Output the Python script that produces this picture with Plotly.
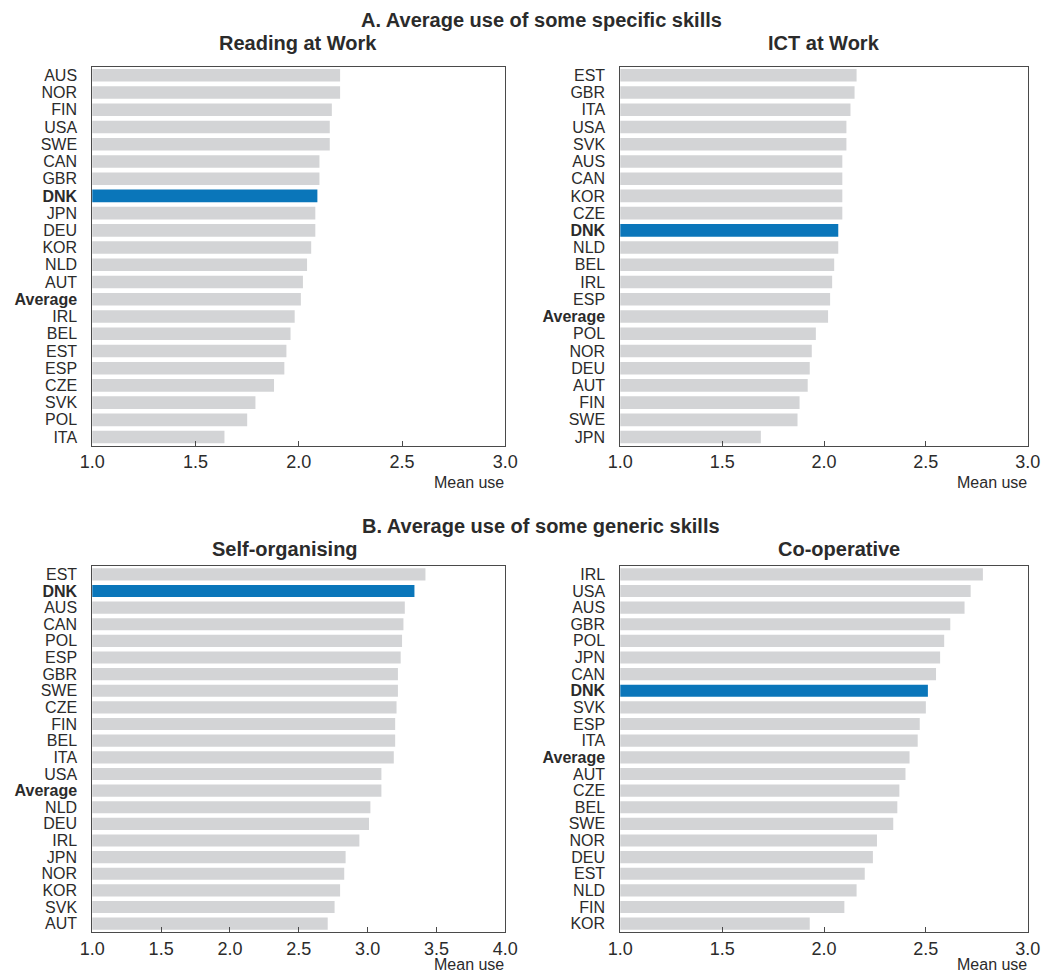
import plotly.graph_objects as go

# ---- data -------------------------------------------------------------
reading_countries = ["AUS", "NOR", "FIN", "USA", "SWE", "CAN", "GBR", "DNK", "JPN", "DEU", "KOR",
                     "NLD", "AUT", "Average", "IRL", "BEL", "EST", "ESP", "CZE", "SVK", "POL", "ITA"]
reading_values = [2.20, 2.20, 2.16, 2.15, 2.15, 2.10, 2.10, 2.09, 2.08, 2.08, 2.06,
                  2.04, 2.02, 2.01, 1.98, 1.96, 1.94, 1.93, 1.88, 1.79, 1.75, 1.64]

ict_countries = ["EST", "GBR", "ITA", "USA", "SVK", "AUS", "CAN", "KOR", "CZE", "DNK", "NLD",
                 "BEL", "IRL", "ESP", "Average", "POL", "NOR", "DEU", "AUT", "FIN", "SWE", "JPN"]
ict_values = [2.16, 2.15, 2.13, 2.11, 2.11, 2.09, 2.09, 2.09, 2.09, 2.07, 2.07,
              2.05, 2.04, 2.03, 2.02, 1.96, 1.94, 1.93, 1.92, 1.88, 1.87, 1.69]

selforg_countries = ["EST", "DNK", "AUS", "CAN", "POL", "ESP", "GBR", "SWE", "CZE", "FIN", "BEL",
                     "ITA", "USA", "Average", "NLD", "DEU", "IRL", "JPN", "NOR", "KOR", "SVK", "AUT"]
selforg_values = [3.42, 3.34, 3.27, 3.26, 3.25, 3.24, 3.22, 3.22, 3.21, 3.20, 3.20,
                  3.19, 3.10, 3.10, 3.02, 3.01, 2.94, 2.84, 2.83, 2.80, 2.76, 2.71]

coop_countries = ["IRL", "USA", "AUS", "GBR", "POL", "JPN", "CAN", "DNK", "SVK", "ESP", "ITA",
                  "Average", "AUT", "CZE", "BEL", "SWE", "NOR", "DEU", "EST", "NLD", "FIN", "KOR"]
coop_values = [2.78, 2.72, 2.69, 2.62, 2.59, 2.57, 2.55, 2.51, 2.50, 2.47, 2.46,
               2.42, 2.40, 2.37, 2.36, 2.34, 2.26, 2.24, 2.20, 2.16, 2.10, 1.93]

panel_titles = ["Reading at Work", "ICT at Work", "Self-organising", "Co-operative"]
section_titles = ["A. Average use of some specific skills", "B. Average use of some generic skills"]
x_ticks_3 = [1.0, 1.5, 2.0, 2.5, 3.0]
x_ticks_4 = [1.0, 1.5, 2.0, 2.5, 3.0, 3.5, 4.0]
x_title = "Mean use"
highlight = "DNK"

# ---- styling ----------------------------------------------------------
W, H = 1050, 975
FONT = "Liberation Sans, Arial, Helvetica, sans-serif"
TEXT = "#2b2b2b"
FRAME = "#4a4a4a"
GREY = "#d3d4d6"
BLUE = "#0a76ba"


def px_x(p):
    return p / W


def px_y(p):
    return 1 - p / H


# pixel boxes of the four plotting areas: (left, right, top, bottom)
boxes = [
    (92.3, 505.3, 66.7, 445.7),
    (620.3, 1027.7, 66.7, 445.7),
    (92.3, 505.3, 566.0, 932.0),
    (620.3, 1027.7, 566.0, 932.0),
]
panels = [
    (reading_countries, reading_values, x_ticks_3),
    (ict_countries, ict_values, x_ticks_3),
    (selforg_countries, selforg_values, x_ticks_4),
    (coop_countries, coop_values, x_ticks_3),
]


def label(c):
    if c in (highlight, "Average"):
        return "<b>" + c + "</b>"
    return c


fig = go.Figure()
layout = {}
for i, ((cats, vals, xt), (l, r, t, b)) in enumerate(zip(panels, boxes), start=1):
    sx = "" if i == 1 else str(i)
    colors = [BLUE if c == highlight else GREY for c in cats]
    fig.add_trace(go.Bar(
        x=vals, y=cats, orientation="h",
        marker=dict(color=colors, line=dict(width=0)),
        width=0.73, xaxis="x" + sx, yaxis="y" + sx,
        showlegend=False, hoverinfo="x+y",
    ))
    layout["xaxis" + sx] = dict(
        domain=[px_x(l), px_x(r)], anchor="y" + sx, automargin=False,
        range=[xt[0], xt[-1]], tickvals=xt, ticktext=["%.1f" % v for v in xt],
        ticks="inside", ticklen=5, tickcolor=FRAME, tickwidth=1,
        showline=True, linecolor=FRAME, linewidth=1, mirror=True,
        showgrid=False, zeroline=False, fixedrange=True,
        tickfont=dict(family=FONT, size=18, color=TEXT),
    )
    layout["yaxis" + sx] = dict(
        domain=[px_y(b), px_y(t)], anchor="x" + sx, automargin=False,
        type="category", categoryorder="array", categoryarray=cats,
        range=[len(cats) - 0.5, -0.5],
        tickvals=cats, ticktext=[label(c) for c in cats],
        ticks="", ticklabelstandoff=11,
        showline=True, linecolor=FRAME, linewidth=1, mirror=True,
        layer="below traces",
        showgrid=False, zeroline=False, fixedrange=True,
        tickfont=dict(family=FONT, size=16, color=TEXT),
    )

annotations = []
# section headings
for txt, py in zip(section_titles, [20, 526]):
    annotations.append(dict(
        text="<b>" + txt + "</b>", x=px_x(541), y=px_y(py),
        xref="paper", yref="paper", xanchor="center", yanchor="middle",
        showarrow=False, font=dict(family=FONT, size=20, color=TEXT)))
# panel headings
for txt, (cx, cy) in zip(panel_titles, [(298, 43), (824, 43), (285, 549), (839, 549)]):
    annotations.append(dict(
        text="<b>" + txt + "</b>", x=px_x(cx), y=px_y(cy),
        xref="paper", yref="paper", xanchor="center", yanchor="middle",
        showarrow=False, font=dict(family=FONT, size=20, color=TEXT)))
# axis titles
for (l, r, t, b), py in zip(boxes, [483, 483, 964, 964]):
    annotations.append(dict(
        text=x_title, x=px_x(r + 1), y=px_y(py),
        xref="paper", yref="paper", xanchor="right", yanchor="middle",
        showarrow=False, font=dict(family=FONT, size=16, color=TEXT)))

fig.update_layout(
    width=W, height=H,
    margin=dict(l=0, r=0, t=0, b=0, autoexpand=False),
    paper_bgcolor="white", plot_bgcolor="white",
    bargap=0.27,
    annotations=annotations,
    **layout,
)

fig.write_html("out.html")
